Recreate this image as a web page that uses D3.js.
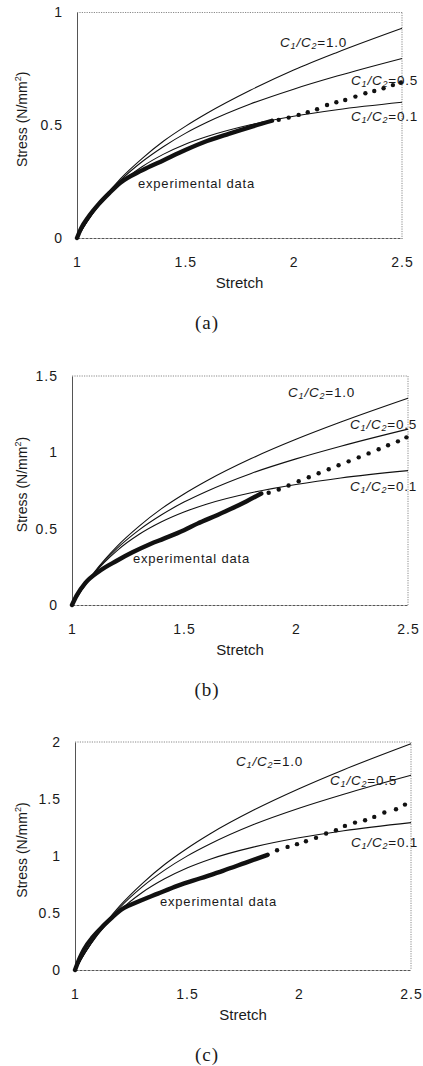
<!DOCTYPE html>
<html>
<head>
<meta charset="utf-8">
<script src="https://cdn.jsdelivr.net/npm/d3@7/dist/d3.min.js"></script>
<style>
  body { margin: 0; background: #fff; }
  svg { display: block; }
  text { font-family: "Liberation Sans", Arial, sans-serif; fill: #1a1a1a; }
  .panel-tag { font-family: "Liberation Serif", "Times New Roman", serif; }
</style>
</head>
<body>
<div id="chart"></div>
<script>
/* model curves: stretch grid shared by all three panels */
const stretchGrid = [1, 1.05, 1.1, 1.2, 1.3, 1.4, 1.5, 1.6, 1.8, 2.0, 2.2, 2.5];
const ratioLabels = ['1.0', '0.5', '0.1'];

// panel (a)
const aModel10 = [0, 0.08, 0.148, 0.262, 0.352, 0.43, 0.495, 0.553, 0.655, 0.745, 0.823, 0.93];
const aModel05 = [0, 0.078, 0.146, 0.255, 0.338, 0.406, 0.464, 0.513, 0.594, 0.66, 0.718, 0.796];
const aModel01 = [0, 0.077, 0.142, 0.243, 0.316, 0.372, 0.416, 0.45, 0.502, 0.54, 0.569, 0.602];
const aExpStretch = [1.0, 1.02, 1.05, 1.1, 1.15, 1.2, 1.3, 1.4, 1.5, 1.6, 1.7, 1.8, 1.9];
const aExpStress = [0.0, 0.045, 0.09, 0.15, 0.2, 0.245, 0.3, 0.345, 0.39, 0.43, 0.462, 0.492, 0.52];
const aDotStretch = [1.931, 1.977, 2.023, 2.065, 2.108, 2.154, 2.197, 2.238, 2.285, 2.331, 2.372, 2.415, 2.458, 2.495];
const aDotStress = [0.524, 0.534, 0.546, 0.558, 0.571, 0.59, 0.602, 0.612, 0.627, 0.642, 0.652, 0.664, 0.678, 0.69];

// panel (b)
const bModel10 = [0, 0.115, 0.216, 0.383, 0.517, 0.631, 0.727, 0.812, 0.959, 1.085, 1.198, 1.354];
const bModel05 = [0, 0.114, 0.211, 0.369, 0.492, 0.591, 0.674, 0.744, 0.862, 0.957, 1.04, 1.152];
const bModel01 = [0, 0.113, 0.208, 0.355, 0.463, 0.545, 0.609, 0.66, 0.735, 0.789, 0.832, 0.88];
const bExpStretch = [1.0, 1.02, 1.06, 1.12, 1.2, 1.27, 1.35, 1.41, 1.5, 1.56, 1.65, 1.71, 1.78, 1.845];
const bExpStress = [0.0, 0.06, 0.145, 0.22, 0.29, 0.345, 0.4, 0.435, 0.49, 0.533, 0.59, 0.63, 0.68, 0.73];
const bDotStretch = [1.878, 1.923, 1.967, 2.012, 2.057, 2.101, 2.146, 2.19, 2.235, 2.28, 2.324, 2.369, 2.411, 2.455, 2.493];
const bDotStress = [0.735, 0.757, 0.783, 0.811, 0.837, 0.863, 0.889, 0.915, 0.941, 0.967, 0.993, 1.02, 1.046, 1.072, 1.098];

// panel (c)
const cModel10 = [0, 0.169, 0.317, 0.562, 0.758, 0.925, 1.066, 1.191, 1.405, 1.59, 1.757, 1.985];
const cModel05 = [0, 0.168, 0.313, 0.547, 0.729, 0.876, 0.999, 1.103, 1.278, 1.419, 1.542, 1.708];
const cModel01 = [0, 0.167, 0.305, 0.521, 0.68, 0.8, 0.895, 0.97, 1.08, 1.16, 1.222, 1.293];
const cExpStretch = [1.0, 1.02, 1.04, 1.08, 1.12, 1.16, 1.2, 1.27, 1.37, 1.46, 1.56, 1.66, 1.76, 1.86];
const cExpStress = [0.0, 0.1, 0.18, 0.29, 0.375, 0.45, 0.52, 0.59, 0.67, 0.74, 0.805, 0.87, 0.94, 1.01];
const cDotStretch = [1.902, 1.949, 1.991, 2.031, 2.076, 2.121, 2.165, 2.205, 2.25, 2.295, 2.336, 2.381, 2.433, 2.473];
const cDotStress = [1.051, 1.08, 1.104, 1.13, 1.159, 1.197, 1.226, 1.264, 1.293, 1.314, 1.343, 1.381, 1.41, 1.451];

const xTicks = [1, 1.5, 2, 2.5];
const aYTicks = [0, 0.5, 1];
const bYTicks = [0, 0.5, 1, 1.5];
const cYTicks = [0, 0.5, 1, 1.5, 2];
const panelTags = ['(a)', '(b)', '(c)'];

const W = 423, H = 1066;

/* layout of each panel (pixels) */
const panels = [
  { tag: panelTags[0], box: [77, 12.5, 402, 238], yMax: 1, yTicks: aYTicks,
    models: [aModel10, aModel05, aModel01], exp: [aExpStretch, aExpStress], dots: [aDotStretch, aDotStress],
    labels: [[280, 47], [351, 85], [351, 121]], expLabel: [138, 188] },
  { tag: panelTags[1], box: [72, 376, 408, 605], yMax: 1.5, yTicks: bYTicks,
    models: [bModel10, bModel05, bModel01], exp: [bExpStretch, bExpStress], dots: [bDotStretch, bDotStress],
    labels: [[288, 397], [350, 429], [350, 491]], expLabel: [133, 563] },
  { tag: panelTags[2], box: [75, 742, 411, 970], yMax: 2, yTicks: cYTicks,
    models: [cModel10, cModel05, cModel01], exp: [cExpStretch, cExpStress], dots: [cDotStretch, cDotStress],
    labels: [[236, 766], [330, 785], [351, 847]], expLabel: [160, 906] }
];

const svg = d3.select('#chart').append('svg')
  .attr('width', W)
  .attr('height', H);

svg.append('rect').attr('width', W).attr('height', H).attr('fill', '#fff');

function drawPanel(p) {
  const [x0, y0, x1, y1] = p.box;
  const x = d3.scaleLinear().domain([1, 2.5]).range([x0, x1]);
  const y = d3.scaleLinear().domain([0, p.yMax]).range([y1, y0]);
  const g = svg.append('g');

  // frame: dotted top/right, darker bottom, solid left
  g.append('line').attr('x1', x0).attr('x2', x1).attr('y1', y0).attr('y2', y0)
    .attr('stroke', '#8a8a8a').attr('stroke-width', 1).attr('stroke-dasharray', '1.2,1.2');
  g.append('line').attr('x1', x1).attr('x2', x1).attr('y1', y0).attr('y2', y1)
    .attr('stroke', '#8a8a8a').attr('stroke-width', 1).attr('stroke-dasharray', '1.2,1.2');

  const xAxis = g.append('g')
    .attr('transform', `translate(0,${y1})`)
    .call(d3.axisBottom(x).tickValues(xTicks).tickSize(0).tickPadding(19).tickFormat(d => String(d)));
  xAxis.select('.domain').attr('stroke', '#555').attr('stroke-dasharray', '3,1');
  xAxis.selectAll('text').attr('font-size', 14).attr('letter-spacing', 1).attr('fill', '#222')
    .attr('font-family', '"Liberation Sans", Arial, sans-serif');

  const yAxis = g.append('g')
    .attr('transform', `translate(${x0},0)`)
    .call(d3.axisLeft(y).tickValues(p.yTicks).tickSize(0).tickPadding(14).tickFormat(d => String(d)));
  yAxis.select('.domain').attr('stroke', '#555');
  yAxis.selectAll('text').attr('font-size', 14).attr('letter-spacing', 1).attr('fill', '#222')
    .attr('font-family', '"Liberation Sans", Arial, sans-serif');

  const line = d3.line()
    .x(d => x(d[0]))
    .y(d => y(d[1]))
    .curve(d3.curveMonotoneX);

  // model curves
  p.models.forEach(vals => {
    g.append('path')
      .datum(stretchGrid.map((s, i) => [s, vals[i]]))
      .attr('d', line)
      .attr('fill', 'none')
      .attr('stroke', '#111')
      .attr('stroke-width', 1.1);
  });

  // experimental data: dense band then discrete points
  g.append('path')
    .datum(p.exp[0].map((s, i) => [s, p.exp[1][i]]))
    .attr('d', line)
    .attr('fill', 'none')
    .attr('stroke', '#111')
    .attr('stroke-width', 4.4)
    .attr('stroke-linecap', 'round');

  g.selectAll('circle.pt')
    .data(p.dots[0].map((s, i) => [s, p.dots[1][i]]))
    .join('circle')
    .attr('class', 'pt')
    .attr('cx', d => x(d[0]))
    .attr('cy', d => y(d[1]))
    .attr('r', 2.2)
    .attr('fill', '#111');

  // ratio labels
  p.labels.forEach((pos, i) => {
    const t = g.append('text')
      .attr('x', pos[0]).attr('y', pos[1])
      .attr('font-size', 13.5)
      .attr('letter-spacing', 0.8);
    t.append('tspan').attr('font-style', 'italic').text('C');
    t.append('tspan').attr('font-style', 'italic').attr('font-size', 9).attr('dy', 2).text('1');
    t.append('tspan').attr('font-style', 'italic').attr('dy', -2).text('/C');
    t.append('tspan').attr('font-style', 'italic').attr('font-size', 9).attr('dy', 2).text('2');
    t.append('tspan').attr('dy', -2).text('=' + ratioLabels[i]);
  });

  g.append('text')
    .attr('x', p.expLabel[0]).attr('y', p.expLabel[1])
    .attr('font-size', 13)
    .attr('letter-spacing', 0.8)
    .text('experimental data');

  // axis titles
  const cy = (y0 + y1) / 2 - 6;
  const yt = g.append('text')
    .attr('transform', `translate(27,${cy}) rotate(-90)`)
    .attr('text-anchor', 'middle')
    .attr('font-size', 14);
  yt.append('tspan').text('Stress (N/mm');
  yt.append('tspan').attr('font-size', 9).attr('dy', -6).text('2');
  yt.append('tspan').attr('dy', 6).text(')');

  g.append('text')
    .attr('x', (x0 + x1) / 2).attr('y', y1 + 50)
    .attr('text-anchor', 'middle')
    .attr('font-size', 15)
    .text('Stretch');

  g.append('text')
    .attr('class', 'panel-tag')
    .attr('x', 207).attr('y', y1 + 91)
    .attr('text-anchor', 'middle')
    .attr('font-size', 19)
    .attr('letter-spacing', 1)
    .text(p.tag);
}

panels.forEach(drawPanel);
</script>
</body>
</html>
